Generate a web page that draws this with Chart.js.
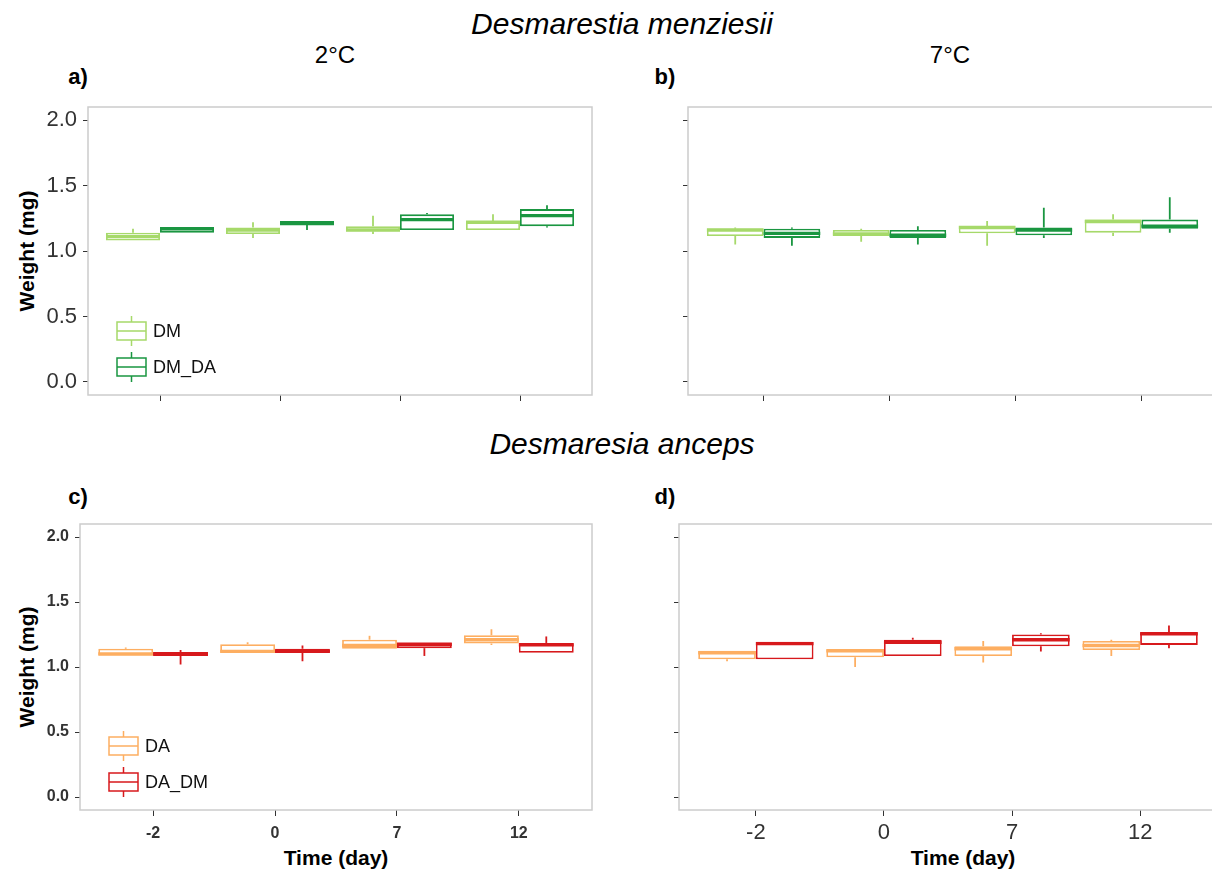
<!DOCTYPE html>
<html>
<head>
<meta charset="utf-8">
<title>Weight over time</title>
<script src="https://cdn.jsdelivr.net/npm/chart.js@4.4.1/dist/chart.umd.min.js"></script>
<style>
  body { margin: 0; background: #fff; overflow: hidden; }
  #page { position: relative; width: 1212px; height: 875px; overflow: hidden;
          font-family: "Liberation Sans", Arial, sans-serif; color: #000; }
  canvas { position: absolute; }
  .lbl { position: absolute; transform: translate(-50%, -50%); line-height: 1; white-space: nowrap; }
  .species { font-size: 30px; font-style: italic; }
  .temp { font-size: 24px; }
  .tag { font-size: 22px; font-weight: bold; }
  .axis { font-size: 21px; font-weight: bold; }
  .rot { transform: translate(-50%, -50%) rotate(-90deg); }
</style>
</head>
<body>
<div id="page">
  <div class="lbl species" style="left:622px;top:24px">Desmarestia menziesii</div>
  <div class="lbl temp" style="left:335px;top:55px">2°C</div>
  <div class="lbl temp" style="left:950px;top:55px">7°C</div>
  <div class="lbl tag" style="left:78px;top:77px">a)</div>
  <div class="lbl tag" style="left:665px;top:77px">b)</div>

  <div class="lbl species" style="left:622px;top:444px">Desmaresia anceps</div>
  <div class="lbl tag" style="left:78px;top:497px">c)</div>
  <div class="lbl tag" style="left:665px;top:497px">d)</div>

  <div class="lbl axis rot" style="left:26px;top:251px">Weight (mg)</div>
  <div class="lbl axis rot" style="left:26px;top:667px">Weight (mg)</div>
  <div class="lbl axis" style="left:336px;top:857px">Time (day)</div>
  <div class="lbl axis" style="left:963px;top:857px">Time (day)</div>

  <canvas id="panelA" width="606" height="342" style="left:0;top:83px"></canvas>
  <canvas id="panelB" width="625" height="342" style="left:600px;top:83px"></canvas>
  <canvas id="panelC" width="606" height="375" style="left:0;top:500px"></canvas>
  <canvas id="panelD" width="625" height="375" style="left:600px;top:500px"></canvas>
</div>

<script>
// sampling days and weight axis ticks
const timeLabels = ['-2', '0', '7', '12'];
const weightTicks = [0, 0.5, 1.0, 1.5, 2.0];

// box summaries per day: [min, q1, median, q3, max] (mg)
const dmCold   = [[1.08, 1.08, 1.11, 1.14, 1.17], [1.10, 1.13, 1.16, 1.18, 1.22], [1.13, 1.15, 1.16, 1.19, 1.27], [1.16, 1.16, 1.22, 1.23, 1.28]];
const dmdaCold = [[1.14, 1.14, 1.17, 1.18, 1.18], [1.16, 1.20, 1.21, 1.23, 1.23], [1.16, 1.16, 1.24, 1.28, 1.29], [1.18, 1.19, 1.27, 1.32, 1.35]];
const dmWarm   = [[1.05, 1.115, 1.16, 1.17, 1.18], [1.07, 1.115, 1.13, 1.16, 1.17], [1.04, 1.135, 1.18, 1.19, 1.23], [1.115, 1.14, 1.225, 1.24, 1.28]];
const dmdaWarm = [[1.04, 1.10, 1.135, 1.17, 1.18], [1.05, 1.10, 1.12, 1.16, 1.19], [1.10, 1.12, 1.16, 1.18, 1.33], [1.14, 1.17, 1.19, 1.24, 1.41]];
const daCold   = [[1.09, 1.09, 1.10, 1.14, 1.15], [1.11, 1.11, 1.12, 1.175, 1.19], [1.14, 1.14, 1.165, 1.21, 1.24], [1.17, 1.18, 1.21, 1.245, 1.29]];
const dadmCold = [[1.02, 1.085, 1.10, 1.115, 1.13], [1.045, 1.11, 1.12, 1.14, 1.165], [1.085, 1.145, 1.175, 1.185, 1.185], [1.11, 1.11, 1.17, 1.185, 1.235]];
const daWarm   = [[1.045, 1.06, 1.11, 1.125, 1.125], [1.0, 1.075, 1.125, 1.135, 1.135], [1.035, 1.085, 1.14, 1.16, 1.20], [1.085, 1.13, 1.165, 1.20, 1.21]];
const dadmWarm = [[1.06, 1.06, 1.18, 1.195, 1.195], [1.085, 1.085, 1.19, 1.21, 1.225], [1.12, 1.16, 1.21, 1.25, 1.26], [1.145, 1.17, 1.255, 1.27, 1.32]];

const colors = { DM: '#a6d96a', DM_DA: '#1a9641', DA: '#fdae61', DA_DM: '#d7191c' };

// box = floating bar q1..q3, the rest is drawn by the plugin below
function boxSeries(label, stats) {
    return {
        label: label,
        stats: stats,
        data: stats.map((s, i) => ({ x: i, y: [s[1], s[3]] })),
        backgroundColor: '#ffffff',
        borderColor: colors[label],
        borderWidth: 1.8,
        borderSkipped: false,
        categoryPercentage: 0.9,
        barPercentage: 1
    };
}

// medians, whiskers, panel frame and the key
const boxPlotPlugin = {
    id: 'boxPlot',
    afterDatasetsDraw(chart, args, opts) {
        const ctx = chart.ctx;
        const y = chart.scales.y;
        const area = chart.chartArea;

        ctx.save();
        chart.data.datasets.forEach((ds, di) => {
            const meta = chart.getDatasetMeta(di);
            ctx.strokeStyle = ds.borderColor;
            meta.data.forEach((bar, i) => {
                const s = ds.stats[i];
                const half = bar.width / 2;
                // whiskers
                ctx.lineWidth = 1.8;
                ctx.beginPath();
                ctx.moveTo(bar.x, y.getPixelForValue(s[3]));
                ctx.lineTo(bar.x, y.getPixelForValue(s[4]));
                ctx.moveTo(bar.x, y.getPixelForValue(s[1]));
                ctx.lineTo(bar.x, y.getPixelForValue(s[0]));
                ctx.stroke();
                // median
                ctx.lineWidth = 3.4;
                ctx.beginPath();
                ctx.moveTo(bar.x - half, y.getPixelForValue(s[2]));
                ctx.lineTo(bar.x + half, y.getPixelForValue(s[2]));
                ctx.stroke();
            });
        });

        // grey panel frame
        ctx.strokeStyle = '#cccccc';
        ctx.lineWidth = 1.5;
        ctx.strokeRect(area.left, area.top, area.right - area.left, area.bottom - area.top);

        if (opts.legend) {
            chart.data.datasets.forEach((ds, di) => {
                const cy = area.bottom - 64 + di * 36;
                const kx = area.left + 29;
                const kw = 29;
                ctx.strokeStyle = ds.borderColor;
                ctx.lineWidth = 1.5;
                ctx.strokeRect(kx, cy - 9, kw, 18);
                ctx.beginPath();
                ctx.moveTo(kx, cy);
                ctx.lineTo(kx + kw, cy);
                ctx.moveTo(kx + kw / 2, cy - 9);
                ctx.lineTo(kx + kw / 2, cy - 15);
                ctx.moveTo(kx + kw / 2, cy + 9);
                ctx.lineTo(kx + kw / 2, cy + 15);
                ctx.stroke();
                ctx.fillStyle = '#111';
                ctx.font = '18px "Liberation Sans", Arial, sans-serif';
                ctx.textBaseline = 'middle';
                ctx.textAlign = 'left';
                ctx.fillText(ds.label, kx + kw + 7, cy + 1);
            });
        }
        ctx.restore();
    }
};

function makePanel(id, datasets, cfg) {
    return new Chart(document.getElementById(id), {
        type: 'bar',
        data: { datasets: datasets },
        plugins: [boxPlotPlugin],
        options: {
            responsive: false,
            animation: false,
            layout: { padding: { left: 0, top: 24, right: cfg.padRight, bottom: 0 } },
            plugins: {
                legend: { display: false },
                tooltip: { enabled: false },
                boxPlot: { legend: cfg.legend }
            },
            scales: {
                x: {
                    type: 'linear',
                    min: -0.6,
                    max: 3.6,
                    offset: false,
                    afterBuildTicks: axis => { axis.ticks = timeLabels.map((t, i) => ({ value: i })); },
                    afterFit: axis => { axis.height = cfg.xHeight; },
                    border: { display: false },
                    grid: { offset: false, drawOnChartArea: false, tickLength: 6, tickColor: '#333', tickWidth: 1 },
                    ticks: {
                        display: !!cfg.xFont,
                        padding: cfg.xPad || 0,
                        color: '#333',
                        font: cfg.xFont,
                        maxRotation: 0,
                        autoSkip: false,
                        callback: v => timeLabels[v]
                    }
                },
                y: {
                    type: 'linear',
                    min: -0.1,
                    max: 2.1,
                    afterBuildTicks: axis => { axis.ticks = weightTicks.map(v => ({ value: v })); },
                    afterFit: axis => { axis.width = cfg.yWidth; },
                    border: { display: false },
                    grid: { drawOnChartArea: false, tickLength: 5, tickColor: '#333', tickWidth: 1 },
                    ticks: {
                        display: !!cfg.yFont,
                        padding: 6,
                        color: '#333',
                        font: cfg.yFont,
                        callback: v => v.toFixed(1)
                    }
                }
            }
        }
    });
}

const family = '"Liberation Sans", Arial, sans-serif';

makePanel('panelA', [boxSeries('DM', dmCold), boxSeries('DM_DA', dmdaCold)], {
    yWidth: 88, xHeight: 30, padRight: 14, legend: true,
    yFont: { family: family, size: 22 }
});
makePanel('panelB', [boxSeries('DM', dmWarm), boxSeries('DM_DA', dmdaWarm)], {
    yWidth: 88, xHeight: 30, padRight: 8, legend: false
});
makePanel('panelC', [boxSeries('DA', daCold), boxSeries('DA_DM', dadmCold)], {
    yWidth: 80, xHeight: 65, padRight: 14, legend: true,
    yFont: { family: family, size: 16, weight: 'bold' },
    xFont: { family: family, size: 16, weight: 'bold' }, xPad: 8
});
makePanel('panelD', [boxSeries('DA', daWarm), boxSeries('DA_DM', dadmWarm)], {
    yWidth: 79, xHeight: 65, padRight: 8, legend: false,
    xFont: { family: family, size: 22 }, xPad: 4
});
</script>
</body>
</html>
